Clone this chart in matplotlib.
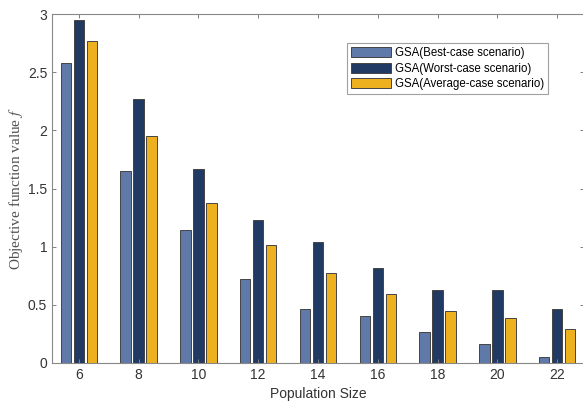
import matplotlib
matplotlib.use("Agg")
import matplotlib.pyplot as plt
import numpy as np

plt.rcParams["mathtext.fontset"] = "stix"

categories = ["6", "8", "10", "12", "14", "16", "18", "20", "22"]
best = [2.58, 1.65, 1.14, 0.725, 0.464, 0.40, 0.264, 0.16, 0.05]
worst = [2.95, 2.27, 1.67, 1.23, 1.04, 0.82, 0.63, 0.628, 0.464]
average = [2.765, 1.95, 1.376, 1.017, 0.77, 0.596, 0.45, 0.39, 0.292]
series_labels = ["GSA(Best-case scenario)", "GSA(Worst-case scenario)", "GSA(Average-case scenario)"]
colors = ["#5F79A8", "#213A63", "#EDB120"]

fig = plt.figure(figsize=(5.83, 4.03), dpi=100)
ax = fig.add_axes([52/583, 1-363/403, 532/583, (363-14)/403])

x = np.arange(1, len(categories)+1)
w = 0.175
off = 0.217
for i, (vals, lab, c) in enumerate(zip([best, worst, average], series_labels, colors)):
    ax.bar(x + (i-1)*off, vals, width=w, color=c, edgecolor="#444444", linewidth=0.7, label=lab)

ax.set_xlim(0.55, len(categories)+0.45)
ax.set_ylim(0, 3)
ax.set_xticks(x)
ax.set_xticklabels(categories)
ax.set_yticks([0, 0.5, 1, 1.5, 2, 2.5, 3])
ax.set_yticklabels(["0", "0.5", "1", "1.5", "2", "2.5", "3"])
ax.tick_params(direction="in", top=True, right=True, length=3, width=0.7, color="#808080",
               labelsize=10, labelcolor="#333333")
for lbl in ax.get_xticklabels() + ax.get_yticklabels():
    lbl.set_family("Liberation Sans")
for s in ax.spines.values():
    s.set_color("#888888")
    s.set_linewidth(0.8)

ax.set_xlabel("Population Size", family="Liberation Sans", fontsize=10, color="#333333", labelpad=4)
ax.set_ylabel("Objective function value $f$", family="Liberation Serif", fontsize=11, color="#505050", labelpad=2)

leg = ax.legend(loc="upper left", bbox_to_anchor=((347-52)/532, (363-43)/349), borderaxespad=0,
                frameon=True, fancybox=False, edgecolor="#888888", borderpad=0.35,
                handlelength=3.5, handleheight=1.0, handletextpad=0.3, labelspacing=0.3,
                prop={"family": "Liberation Sans", "size": 8.3})
leg.get_frame().set_linewidth(0.8)

fig.savefig("out.png", dpi=100)
